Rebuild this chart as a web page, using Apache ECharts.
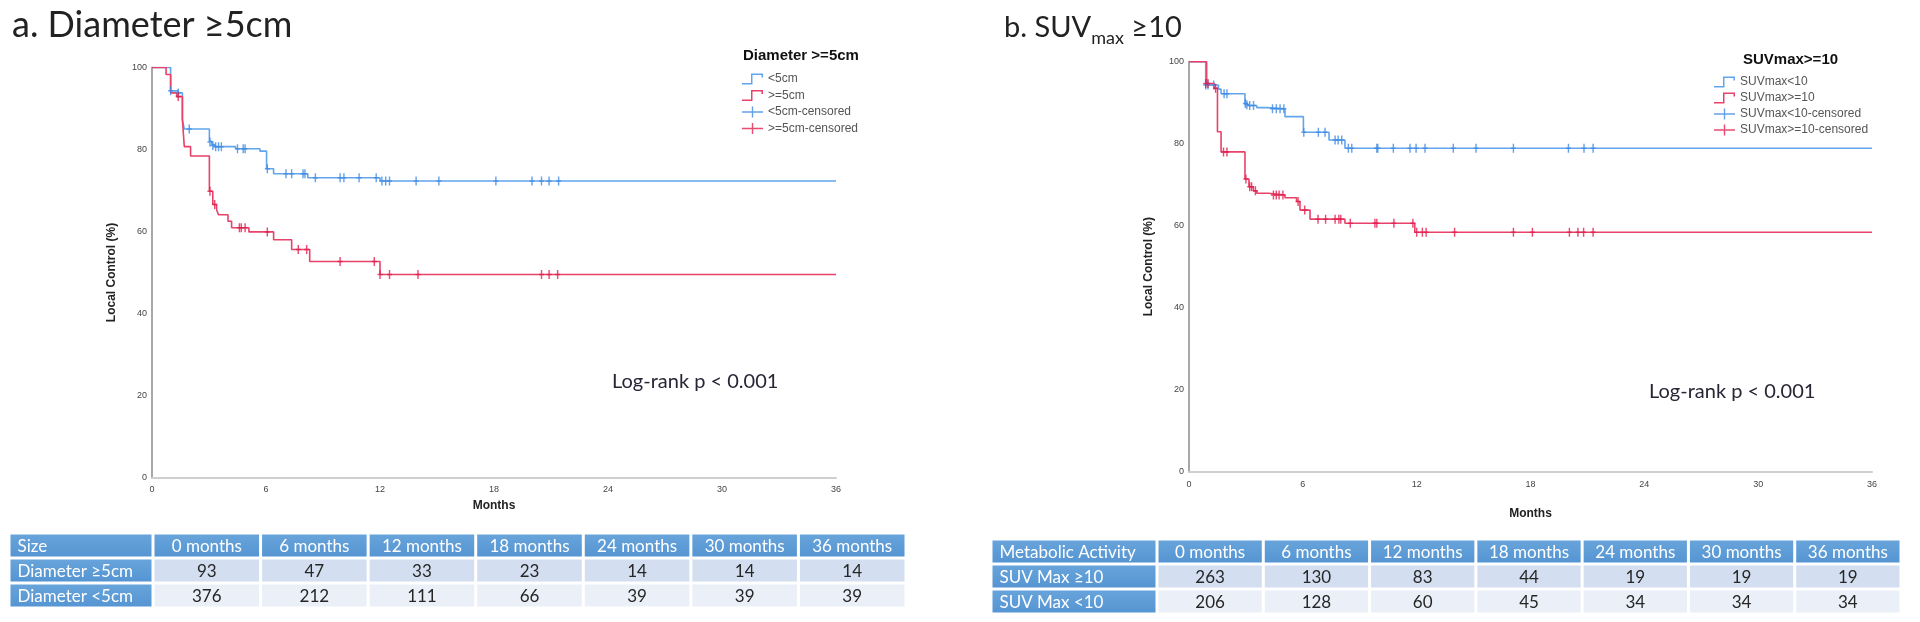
<!DOCTYPE html>
<html><head><meta charset="utf-8">
<script src="https://cdn.jsdelivr.net/npm/echarts@6/dist/echarts.min.js"></script>
<style>html,body{margin:0;padding:0;background:#fff}#c{width:1920px;height:622px}</style>
</head><body><div id="c"></div>
<script>
// ---------- data ----------
const xTickValues = [0, 6, 12, 18, 24, 30, 36];
const yTickValues = [0, 20, 40, 60, 80, 100];

// Panel a: Diameter
const diaLt5Steps = [[0,100],[0.98,94.3],[1.38,93.8],[1.6,87.3],[1.7,85.0],[3.02,82.0],[3.15,81.2],[3.3,80.7],[4.4,80.2],[5.68,79.6],[6.03,75.3],[6.4,74.1],[8.2,73.1],[12.0,72.3],[36,72.3]];
const diaLt5Censored = [[0.98,94.3],[1.38,93.8],[1.96,85.0],[3.05,81.8],[3.2,81.0],[3.35,80.7],[3.5,80.7],[3.65,80.7],[4.5,80.2],[4.8,80.2],[4.9,80.2],[6.07,75.3],[7.05,74.1],[7.35,74.1],[7.95,74.1],[8.05,74.1],[8.6,73.1],[9.9,73.1],[10.1,73.1],[10.9,73.1],[11.8,73.1],[12.1,72.3],[12.3,72.3],[12.5,72.3],[13.9,72.3],[15.1,72.3],[18.1,72.3],[20.0,72.3],[20.5,72.3],[20.9,72.3],[21.4,72.3]];
const diaGe5Steps = [[0,100],[0.74,98.3],[0.98,93.8],[1.3,92.9],[1.6,87.3],[1.7,80.7],[2.03,78.4],[3.02,69.8],[3.2,66.6],[3.4,65.3],[3.5,64.1],[4.0,62.5],[4.19,60.9],[5.1,59.9],[6.4,58.0],[7.35,55.6],[8.3,52.7],[12.0,49.5],[36,49.5]];
const diaGe5Censored = [[1.38,92.9],[3.05,69.8],[3.3,66.6],[4.6,60.9],[4.7,60.9],[4.9,60.9],[6.07,59.9],[7.7,55.6],[8.14,55.6],[9.9,52.7],[11.7,52.7],[12.0,49.5],[12.5,49.5],[14.0,49.5],[20.5,49.5],[20.9,49.5],[21.35,49.5]];

// Panel b: SUVmax
const suvLt10Steps = [[0,100],[0.88,94.3],[1.55,93.3],[1.69,92.2],[2.95,89.8],[3.1,89.3],[3.57,88.8],[4.1,88.5],[5.06,86.6],[6.03,82.8],[7.38,80.9],[8.22,78.9],[36,78.9]];
const suvLt10Censored = [[0.88,94.3],[1.0,94.3],[1.3,94.3],[1.85,92.2],[2.0,92.2],[2.97,89.8],[3.05,89.5],[3.2,89.3],[3.4,89.3],[4.4,88.5],[4.6,88.5],[4.8,88.5],[5.0,88.5],[6.05,82.8],[6.82,82.8],[7.17,82.8],[7.7,80.9],[7.86,80.9],[8.05,80.9],[8.4,78.9],[8.58,78.9],[9.9,78.9],[9.95,78.9],[10.77,78.9],[11.65,78.9],[11.97,78.9],[12.44,78.9],[13.93,78.9],[15.13,78.9],[17.1,78.9],[20.0,78.9],[20.82,78.9],[21.3,78.9]];
const suvGe10Steps = [[0,100],[0.93,94.7],[1.33,93.5],[1.5,82.9],[1.69,78.0],[2.95,71.4],[3.16,69.5],[3.39,68.5],[3.57,67.9],[4.18,67.5],[5.06,66.8],[5.67,65.9],[5.85,63.8],[6.38,61.6],[8.22,60.6],[11.9,58.4],[36,58.4]];
const suvGe10Censored = [[0.88,94.7],[1.0,94.7],[1.4,93.5],[1.82,78.0],[2.0,78.0],[3.0,71.4],[3.2,69.5],[3.3,69.5],[3.5,68.5],[4.45,67.5],[4.6,67.5],[4.75,67.5],[4.95,67.5],[5.75,65.9],[6.1,63.8],[6.8,61.6],[7.2,61.6],[7.7,61.6],[7.9,61.6],[8.0,61.6],[8.5,60.6],[9.8,60.6],[9.9,60.6],[10.8,60.6],[11.8,60.6],[12.0,58.4],[12.3,58.4],[12.5,58.4],[14.0,58.4],[17.1,58.4],[18.1,58.4],[20.05,58.4],[20.5,58.4],[20.8,58.4],[21.3,58.4]];

// At-risk tables
const monthHeaders = ['0 months','6 months','12 months','18 months','24 months','30 months','36 months'];
const sizeHeader = 'Size';
const sizeRowLabels = ['Diameter ≥5cm', 'Diameter <5cm'];
const sizeGe5AtRisk = [93, 47, 33, 23, 14, 14, 14];
const sizeLt5AtRisk = [376, 212, 111, 66, 39, 39, 39];
const suvHeader = 'Metabolic Activity';
const suvRowLabels = ['SUV Max ≥10', 'SUV Max <10'];
const suvGe10AtRisk = [263, 130, 83, 44, 19, 19, 19];
const suvLt10AtRisk = [206, 128, 60, 45, 34, 34, 34];

// ---------- styling ----------
const BLUE_LINE = '#62A5EC', BLUE_MARK = '#3F8BE3';
const RED_LINE = '#E8416A', RED_MARK = '#E01E4C';
const STEP_ICON = 'path://M0,9.5 H9 V0 H21 V4 H19.5 V1.5 H10.5 V11 H0 Z';
const PLUS_ICON = 'path://M0,4.8 H9.8 V0 H11.2 V4.8 H21 V6.2 H11.2 V11 H9.8 V6.2 H0 Z';
const CENSOR_SYMBOL = 'path://M2,0 H3.6 V4 H5.6 V5.6 H3.6 V9.6 H2 V5.6 H0 V4 H2 Z';
const CALIBRI = 'Lato, "Open Sans", sans-serif';
const ARIAL = '"Liberation Sans", Arial, sans-serif';

function kmXAxis(grid, nameGap) {
  return {
    type: 'value', gridIndex: grid, min: xTickValues[0], max: xTickValues[xTickValues.length-1], interval: 6,
    name: 'Months', nameLocation: 'middle', nameGap: nameGap,
    nameTextStyle: {fontFamily: ARIAL, fontWeight: 'bold', fontSize: 12, color: '#222'},
    axisLine: {show: true, lineStyle: {color: '#CFCFCF', width: 2}},
    axisTick: {show: false}, splitLine: {show: false},
    axisLabel: {fontFamily: ARIAL, fontSize: 9, color: '#444', margin: 8}
  };
}
function kmYAxis(grid) {
  return {
    type: 'value', gridIndex: grid, min: yTickValues[0], max: yTickValues[yTickValues.length-1], interval: 20,
    name: 'Local Control (%)', nameLocation: 'middle', nameGap: 34, nameRotate: 90,
    nameTextStyle: {fontFamily: ARIAL, fontWeight: 'bold', fontSize: 12, color: '#222'},
    axisLine: {show: true, lineStyle: {color: '#A8A8A8', width: 2}},
    axisTick: {show: false}, splitLine: {show: false},
    axisLabel: {fontFamily: ARIAL, fontSize: 9, color: '#444', margin: 5}
  };
}
function hiddenCat(grid, n, inverse) {
  return {type: 'category', gridIndex: grid, data: Array.from({length: n}, (_, i) => i), inverse: !!inverse,
    show: false, axisLine: {show:false}, axisTick: {show:false}, axisLabel: {show:false}, splitLine: {show:false}};
}

function lineSeries(name, data, color, axis) {
  return {type: 'line', name, data, step: 'end', symbol: 'none', xAxisIndex: axis, yAxisIndex: axis,
    color, lineStyle: {color, width: 1.6}, z: 2, animation: false};
}
function censorSeries(name, data, color, axis) {
  return {type: 'scatter', name, data, symbol: CENSOR_SYMBOL, symbolSize: [5, 9], xAxisIndex: axis, yAxisIndex: axis,
    color, itemStyle: {color}, z: 3, animation: false};
}

// table cells
function buildCells(header, rowLabels, rowA, rowB) {
  const label = [
    {c: 0, r: 0, text: header, kind: 'h'},
    {c: 0, r: 1, text: rowLabels[0], kind: 'l'},
    {c: 0, r: 2, text: rowLabels[1], kind: 'l'}
  ];
  const body = [];
  monthHeaders.forEach((m, i) => {
    body.push({c: i, r: 0, text: m, kind: 'h'});
    body.push({c: i, r: 1, text: String(rowA[i]), kind: 'd1'});
    body.push({c: i, r: 2, text: String(rowB[i]), kind: 'd2'});
  });
  return {label, body};
}
function tableSeries(cells, axis, alignLeft) {
  return {
    type: 'custom', xAxisIndex: axis, yAxisIndex: axis, animation: false, silent: true,
    data: cells.map(d => [d.c, d.r]),
    renderItem: function (params, api) {
      const cell = cells[params.dataIndex];
      const p = api.coord([cell.c, cell.r]);
      const sz = api.size([1, 1]);
      const w = sz[0] - 3, h = sz[1] - 3;
      const x0 = p[0] - w / 2, y0 = p[1] - h / 2;
      const blue = cell.kind === 'h' || cell.kind === 'l';
      const fill = blue ? new echarts.graphic.LinearGradient(0, 0, 0, 1, [{offset: 0, color: '#68A4DB'}, {offset: 1, color: '#5595D2'}])
        : (cell.kind === 'd1' ? '#D3DFF0' : '#EAEFF8');
      return {type: 'group', children: [
        {type: 'rect', shape: {x: x0, y: y0, width: w, height: h}, style: {fill}},
        {type: 'text', style: {text: cell.text, x: alignLeft ? x0 + 7 : p[0], y: p[1] + 1,
          align: alignLeft ? 'left' : 'center', verticalAlign: 'middle',
          fill: blue ? '#FFFFFF' : '#262626', fontFamily: CALIBRI, fontSize: 17}}
      ]};
    }
  };
}

const tA = buildCells(sizeHeader, sizeRowLabels, sizeGe5AtRisk, sizeLt5AtRisk);
const tB = buildCells(suvHeader, suvRowLabels, suvGe10AtRisk, suvLt10AtRisk);

const chart = echarts.init(document.getElementById('c'), null, {renderer: 'canvas'});
chart.setOption({
  backgroundColor: '#fff',
  animation: false,
  title: [
    {text: 'a. Diameter ≥5cm', left: 12, top: 7, padding: 0, textStyle: {fontFamily: CALIBRI, fontSize: 36, fontWeight: 'normal', color: '#222'}},
    {text: 'b. SUV{s|max} ≥10', left: 1004, top: 9, padding: 0, textStyle: {fontFamily: CALIBRI, fontSize: 29, fontWeight: 'normal', color: '#222', lineHeight: 38,
      rich: {s: {fontFamily: CALIBRI, fontSize: 18, color: '#222', lineHeight: 14, verticalAlign: 'bottom'}}}},
    {text: 'Diameter >=5cm', left: 743, top: 48, padding: 0, textStyle: {fontFamily: ARIAL, fontSize: 15, fontWeight: 'bold', color: '#111'}},
    {text: 'SUVmax>=10', left: 1743, top: 52, padding: 0, textStyle: {fontFamily: ARIAL, fontSize: 15, fontWeight: 'bold', color: '#111'}},
    {text: 'Log-rank p < 0.001', left: 612, top: 372, padding: 0, textStyle: {fontFamily: CALIBRI, fontSize: 20, fontWeight: 'normal', color: '#262636'}},
    {text: 'Log-rank p < 0.001', left: 1649, top: 382, padding: 0, textStyle: {fontFamily: CALIBRI, fontSize: 20, fontWeight: 'normal', color: '#262636'}}
  ],
  legend: [
    {orient: 'vertical', left: 742, top: 73, itemWidth: 21, itemHeight: 11, itemGap: 4.5, padding: 0, selectedMode: false,
      textStyle: {fontFamily: ARIAL, fontSize: 12, color: '#555'}, itemStyle: {borderWidth: 0},
      data: [{name: '<5cm', icon: STEP_ICON}, {name: '>=5cm', icon: STEP_ICON}, {name: '<5cm-censored', icon: PLUS_ICON}, {name: '>=5cm-censored', icon: PLUS_ICON}]},
    {orient: 'vertical', left: 1714, top: 76, itemWidth: 21, itemHeight: 11, itemGap: 4, padding: 0, selectedMode: false,
      textStyle: {fontFamily: ARIAL, fontSize: 12, color: '#555'}, itemStyle: {borderWidth: 0},
      data: [{name: 'SUVmax<10', icon: STEP_ICON}, {name: 'SUVmax>=10', icon: STEP_ICON}, {name: 'SUVmax<10-censored', icon: PLUS_ICON}, {name: 'SUVmax>=10-censored', icon: PLUS_ICON}]}
  ],
  grid: [
    {left: 152, top: 67.5, width: 684, height: 410},
    {left: 1189, top: 61.7, width: 683, height: 410},
    {left: 9, top: 533, width: 144, height: 75},
    {left: 153, top: 533, width: 753, height: 75},
    {left: 991, top: 539, width: 166, height: 75},
    {left: 1157, top: 539, width: 744, height: 75}
  ],
  xAxis: [
    kmXAxis(0, 14), kmXAxis(1, 36),
    hiddenCat(2, 1), hiddenCat(3, 7), hiddenCat(4, 1), hiddenCat(5, 7)
  ],
  yAxis: [
    kmYAxis(0), kmYAxis(1),
    hiddenCat(2, 3, true), hiddenCat(3, 3, true), hiddenCat(4, 3, true), hiddenCat(5, 3, true)
  ],
  series: [
    lineSeries('<5cm', diaLt5Steps, BLUE_LINE, 0),
    lineSeries('>=5cm', diaGe5Steps, RED_LINE, 0),
    censorSeries('<5cm-censored', diaLt5Censored, BLUE_MARK, 0),
    censorSeries('>=5cm-censored', diaGe5Censored, RED_MARK, 0),
    lineSeries('SUVmax<10', suvLt10Steps, BLUE_LINE, 1),
    lineSeries('SUVmax>=10', suvGe10Steps, RED_LINE, 1),
    censorSeries('SUVmax<10-censored', suvLt10Censored, BLUE_MARK, 1),
    censorSeries('SUVmax>=10-censored', suvGe10Censored, RED_MARK, 1),
    tableSeries(tA.label, 2, true),
    tableSeries(tA.body, 3, false),
    tableSeries(tB.label, 4, true),
    tableSeries(tB.body, 5, false)
  ]
});
</script>
</body></html>
